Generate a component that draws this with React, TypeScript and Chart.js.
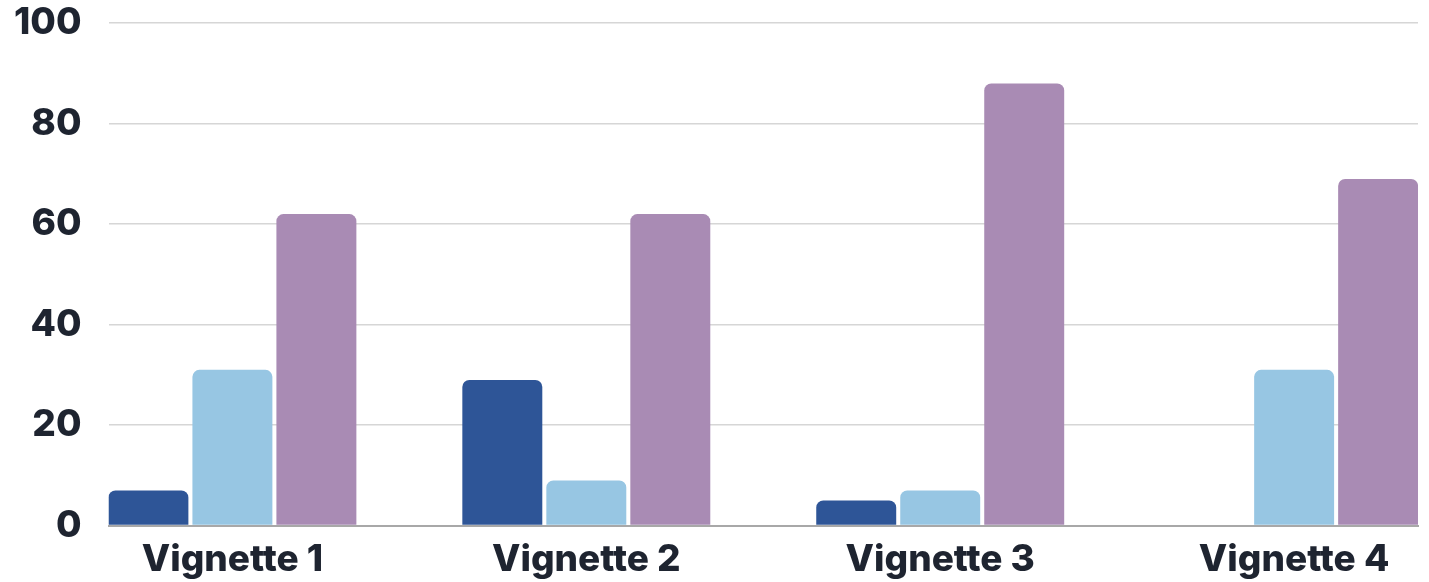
import React, { useEffect, useRef } from "react";
import { Chart, registerables } from "chart.js";

Chart.register(...registerables);

const categories = ["Vignette 1", "Vignette 2", "Vignette 3", "Vignette 4"];
const seriesA = [7, 29, 5, 0];
const seriesB = [31, 9, 7, 31];
const seriesC = [62, 62, 88, 69];
const yTicks = [0, 20, 40, 60, 80, 100];

export default function App() {
  const ref = useRef<HTMLCanvasElement>(null);
  useEffect(() => {
    if (!ref.current) return;
    const font = { family: "Inter", size: 37, weight: "800" as any };
    const toPts = (arr: number[]) => arr.map((v, i) => ({ x: i, y: v }));
    const chart = new Chart(ref.current, {
      type: "bar",
      data: {
        datasets: [
          { label: "A", data: toPts(seriesA), backgroundColor: "#2E5597" },
          { label: "B", data: toPts(seriesB), backgroundColor: "#97C6E3" },
          { label: "C", data: toPts(seriesC), backgroundColor: "#A98BB4" },
        ].map((d) => ({
          ...d,
          borderRadius: 7,
          borderSkipped: "bottom" as const,
          categoryPercentage: 0.712,
          barPercentage: 0.952,
        })),
      },
      options: {
        animation: false,
        responsive: true,
        maintainAspectRatio: false,
        layout: { padding: { left: -13, right: 11, top: 0, bottom: -12 } },
        plugins: { legend: { display: false }, tooltip: { enabled: false } },
        scales: {
          x: {
            type: "linear",
            offset: false,
            bounds: "data",
            min: -0.35,
            max: categories.length - 1 + 0.35,
            afterBuildTicks: (axis: any) => {
              axis.ticks = categories.map((_, i) => ({ value: i }));
            },
            grid: { display: false, drawTicks: false, offset: false },
            border: { display: true, color: "#a8a8a8", width: 2 },
            ticks: {
              color: "#1e2430",
              font,
              padding: 12,
              maxRotation: 0,
              autoSkip: false,
              callback: (v: any) => categories[Number(v)] ?? "",
            },
          },
          y: {
            min: 0,
            max: 100,
            afterBuildTicks: (axis: any) => {
              axis.ticks = yTicks.map((v) => ({ value: v }));
            },
            grid: { color: "#d6d6d6", lineWidth: 1.5, drawTicks: false },
            border: { display: false },
            ticks: { color: "#1e2430", font, padding: 27 },
          },
        },
      },
    });
    return () => chart.destroy();
  }, []);
  return (
    <div style={{ position: "fixed", left: 0, top: -26, width: 1429, height: 608 }}>
      <canvas ref={ref} />
    </div>
  );
}
